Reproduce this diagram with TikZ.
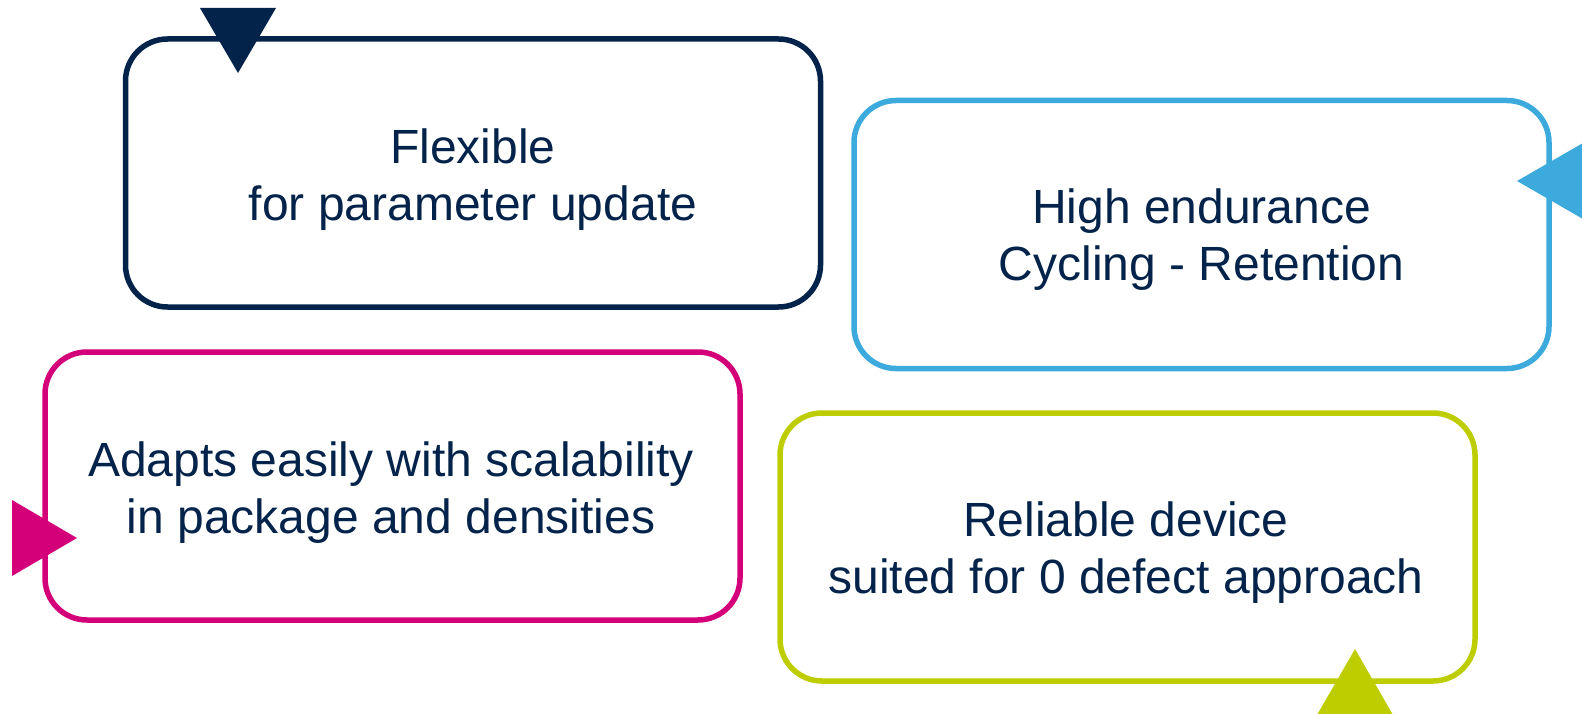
\documentclass[tikz,border=0pt]{standalone}
\usepackage{fontspec}
\setmainfont{Liberation Sans}
\definecolor{navy}{HTML}{03234B}
\definecolor{sky}{HTML}{3CAADC}
\definecolor{rose}{HTML}{D4007A}
\definecolor{lime}{HTML}{BECD00}
\begin{document}
\begin{tikzpicture}[x=1pt,y=-1pt,
  card/.style={draw=#1, line width=5.5pt, rounded corners=42pt,
    minimum width=695pt, minimum height=268pt, inner sep=0pt},
  caption/.style={text=navy, font=\fontsize{48}{57}\selectfont,
    align=center, inner sep=0pt},
  marker/.style={fill=#1, draw=none}]
\useasboundingbox (0,0) rectangle (1582,714);

% rounded frames
\node[card=navy] (flex) at (473,173) {};
\node[card=sky]  (endur) at (1201.5,234.5) {};
\node[card=rose] (adapt) at (392.5,486) {};
\node[card=lime] (relia) at (1127.5,547) {};

% captions
\node[caption] (flextxt)  at (473,179.5)    {Flexible\\for parameter update};
\node[caption] (endurtxt) at (1201.5,239.5) {High endurance\\Cycling - Retention};
\node[caption] (adapttxt) at (391,492.5)    {Adapts easily with scalability\\in package and densities};
\node[caption] (reliatxt) at (1126,552.5)   {Reliable device\\suited for 0 defect approach};

% triangular markers sitting on the frames
\fill[marker=navy] (200,8) -- (276,8) -- (238,73) -- cycle;
\fill[marker=sky]  (1517,181) -- (1583,143) -- (1583,219) -- cycle;
\fill[marker=rose] (12,500) -- (12,576) -- (77,538) -- cycle;
\fill[marker=lime] (1355,649) -- (1393,715) -- (1317,715) -- cycle;
\end{tikzpicture}
\end{document}
